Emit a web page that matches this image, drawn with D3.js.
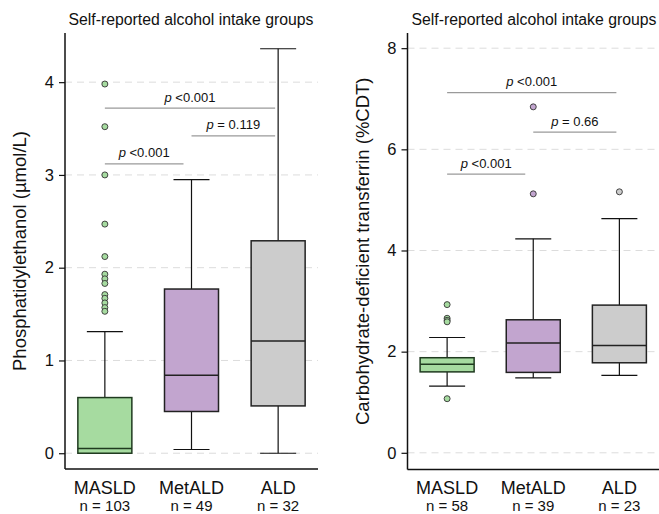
<!DOCTYPE html>
<html>
<head>
<meta charset="utf-8">
<script src="https://cdn.jsdelivr.net/npm/d3@7/dist/d3.min.js"></script>
<style>
  html, body { margin: 0; padding: 0; background: #fff; }
  svg { display: block; }
  text { font-family: "Liberation Sans", Arial, sans-serif; fill: #111; }
</style>
</head>
<body>
<svg id="chart" width="659" height="514"></svg>
<script>
// Groups
const groups = ["MASLD", "MetALD", "ALD"];
const groupColors = ["#a6dba0", "#c2a5cf", "#cccccc"];

// Phosphatidylethanol (µmol/L) box summaries
const pethN = [103, 49, 32];
const pethLow = [0.00, 0.04, 0.00];
const pethQ1 = [0.00, 0.45, 0.51];
const pethMedian = [0.05, 0.84, 1.21];
const pethQ3 = [0.60, 1.77, 2.29];
const pethHigh = [1.31, 2.95, 4.36];
const pethOutliers = [
  [3.98, 3.52, 3.00, 2.47, 2.12, 1.93, 1.88, 1.83, 1.71, 1.67, 1.62, 1.57, 1.53],
  [],
  []
];
const pethTicks = [0, 1, 2, 3, 4];
const pethPairs = [["MASLD", "MetALD"], ["MetALD", "ALD"], ["MASLD", "ALD"]];
const pethPairY = [3.12, 3.42, 3.72];
const pethPairP = ["<0.001", "= 0.119", "<0.001"];

// Carbohydrate-deficient transferrin (%CDT) box summaries
const cdtN = [58, 39, 23];
const cdtLow = [1.32, 1.48, 1.53];
const cdtQ1 = [1.60, 1.59, 1.78];
const cdtMedian = [1.75, 2.17, 2.12];
const cdtQ3 = [1.88, 2.63, 2.92];
const cdtHigh = [2.28, 4.23, 4.63];
const cdtOutliers = [
  [2.93, 2.66, 2.62, 2.59, 1.07],
  [6.84, 5.12],
  [5.16]
];
const cdtTicks = [0, 2, 4, 6, 8];
const cdtPairs = [["MASLD", "MetALD"], ["MetALD", "ALD"], ["MASLD", "ALD"]];
const cdtPairY = [5.51, 6.34, 7.12];
const cdtPairP = ["<0.001", "= 0.66", "<0.001"];

const svg = d3.select("#chart");

function panel(opt) {
  const g = svg.append("g");
  const x = d3.scalePoint().domain(groups).range([opt.left, opt.right]).padding(0.46);
  const y = d3.scaleLinear().domain(opt.domain).range([opt.bottom, opt.top]);
  const boxW = 54, capW = 36;

  // dashed gridlines
  g.selectAll("line.grid").data(opt.ticks).join("line")
    .attr("x1", opt.left).attr("x2", opt.right)
    .attr("y1", d => y(d)).attr("y2", d => y(d))
    .attr("stroke", "#dcdcdc").attr("stroke-width", 1)
    .attr("stroke-dasharray", "7,5");

  // y axis
  const ya = g.append("g").attr("transform", `translate(${opt.left},0)`)
    .call(d3.axisLeft(y).tickValues(opt.ticks).tickSize(6).tickPadding(5).tickFormat(d3.format("d")));
  ya.select(".domain").remove();
  ya.selectAll(".tick line").attr("stroke", "#111").attr("stroke-width", 1.2);
  ya.selectAll(".tick text").attr("font-size", 16.5).attr("font-family", "Liberation Sans, Arial, sans-serif").attr("fill", "#111");

  // axis lines (L shape)
  g.append("line").attr("x1", opt.left).attr("x2", opt.left)
    .attr("y1", opt.top).attr("y2", opt.bottom).attr("stroke", "#111").attr("stroke-width", 1.5);
  g.append("line").attr("x1", opt.left).attr("x2", opt.right)
    .attr("y1", opt.bottom).attr("y2", opt.bottom).attr("stroke", "#111").attr("stroke-width", 1.5);

  // boxes
  groups.forEach((name, i) => {
    const cx = x(name);
    const bg = g.append("g");
    // whiskers
    bg.append("line").attr("x1", cx).attr("x2", cx)
      .attr("y1", y(opt.q3[i])).attr("y2", y(opt.high[i]))
      .attr("stroke", "#111").attr("stroke-width", 1.2);
    bg.append("line").attr("x1", cx).attr("x2", cx)
      .attr("y1", y(opt.low[i])).attr("y2", y(opt.q1[i]))
      .attr("stroke", "#111").attr("stroke-width", 1.2);
    [opt.high[i], opt.low[i]].forEach(v => {
      bg.append("line").attr("x1", cx - capW / 2).attr("x2", cx + capW / 2)
        .attr("y1", y(v)).attr("y2", y(v))
        .attr("stroke", "#111").attr("stroke-width", 1.2);
    });
    // box
    bg.append("rect")
      .attr("x", cx - boxW / 2).attr("width", boxW)
      .attr("y", y(opt.q3[i])).attr("height", Math.max(0, y(opt.q1[i]) - y(opt.q3[i])))
      .attr("fill", groupColors[i])
      .attr("stroke", i === 0 ? "#1f3a1f" : "#222").attr("stroke-width", 1.5);
    bg.append("line").attr("x1", cx - boxW / 2).attr("x2", cx + boxW / 2)
      .attr("y1", y(opt.median[i])).attr("y2", y(opt.median[i]))
      .attr("stroke", i === 0 ? "#1f3a1f" : "#222").attr("stroke-width", 1.5);
    // outliers
    bg.selectAll("circle").data(opt.outliers[i]).join("circle")
      .attr("cx", cx).attr("cy", d => y(d)).attr("r", 3)
      .attr("fill", groupColors[i]).attr("stroke", "#333").attr("stroke-width", 0.9);

    // category labels
    g.append("text").attr("x", cx).attr("y", 494)
      .attr("text-anchor", "middle").attr("font-size", 18).text(name);
    g.append("text").attr("x", cx).attr("y", 511)
      .attr("text-anchor", "middle").attr("font-size", 15).text(`n = ${opt.n[i]}`);
  });

  // pairwise comparison lines
  opt.pairs.forEach((p, k) => {
    const x1 = x(p[0]);
    const x2 = x(p[1]) - (p[1] === "MetALD" ? 8 : 3);
    const yy = y(opt.pairY[k]);
    g.append("line").attr("x1", x1).attr("x2", x2).attr("y1", yy).attr("y2", yy)
      .attr("stroke", "#9a9a9a").attr("stroke-width", 1.2);
    const t = g.append("text").attr("x", (x1 + x2) / 2).attr("y", yy - 6.5)
      .attr("text-anchor", "middle").attr("font-size", 13);
    t.append("tspan").attr("font-style", "italic").text("p");
    t.append("tspan").text(" " + opt.pairP[k]);
  });

  // title
  g.append("text").attr("x", opt.titleX).attr("y", 25)
    .attr("text-anchor", "middle").attr("font-size", 15.8)
    .text("Self-reported alcohol intake groups");

  // y label
  g.append("text")
    .attr("transform", `translate(${opt.labelX},${(opt.top + opt.bottom) / 2}) rotate(-90)`)
    .attr("text-anchor", "middle").attr("font-size", 18.5)
    .text(opt.label);
}

panel({
  left: 65, right: 318, top: 33, bottom: 469,
  domain: [-0.17, 4.53], ticks: pethTicks,
  low: pethLow, q1: pethQ1, median: pethMedian, q3: pethQ3, high: pethHigh,
  outliers: pethOutliers, n: pethN,
  pairs: pethPairs, pairY: pethPairY, pairP: pethPairP,
  titleX: 191, labelX: 26, label: "Phosphatidylethanol (µmol/L)"
});

panel({
  left: 407.5, right: 659, top: 33, bottom: 469.5,
  domain: [-0.33, 8.3], ticks: cdtTicks,
  low: cdtLow, q1: cdtQ1, median: cdtMedian, q3: cdtQ3, high: cdtHigh,
  outliers: cdtOutliers, n: cdtN,
  pairs: cdtPairs, pairY: cdtPairY, pairP: cdtPairP,
  titleX: 534, labelX: 369, label: "Carbohydrate-deficient transferrin (%CDT)"
});
</script>
</body>
</html>
